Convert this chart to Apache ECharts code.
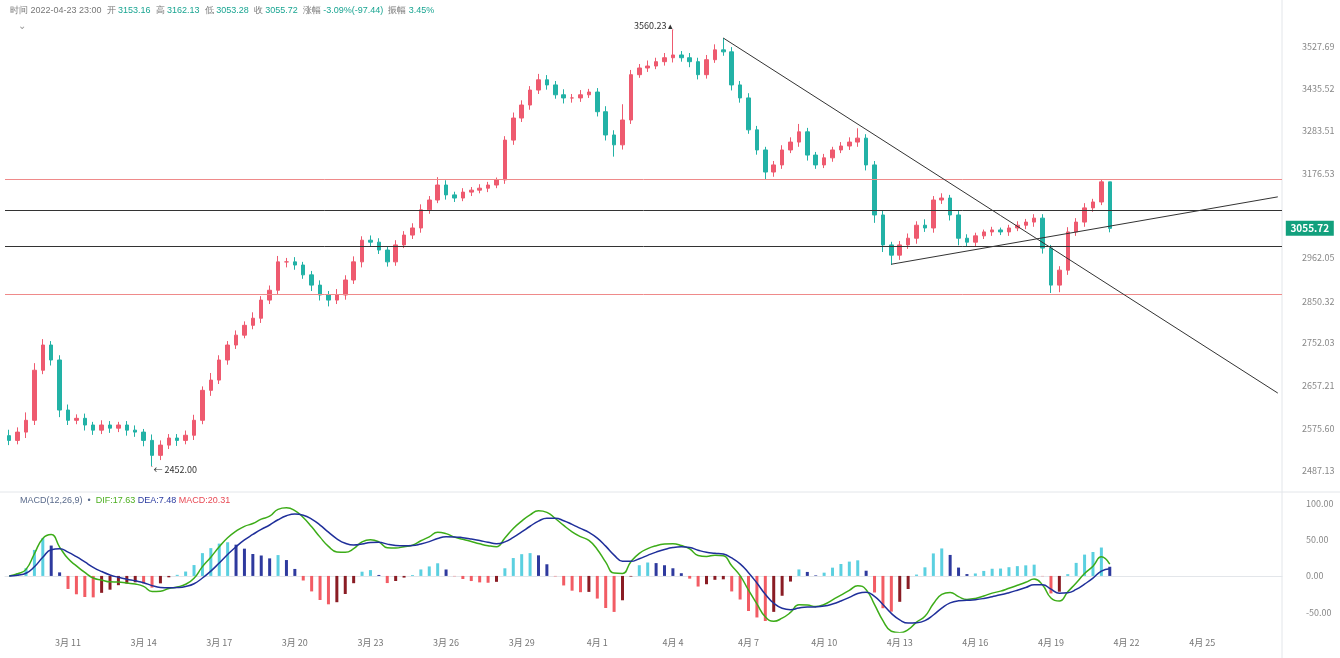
<!DOCTYPE html>
<html>
<head>
<meta charset="utf-8">
<script src="https://cdn.jsdelivr.net/npm/echarts@6/dist/echarts.min.js"></script>
<style>html,body{margin:0;padding:0;background:#fff}#main{width:1340px;height:658px}</style>
</head>
<body>
<div id="main"></div>
<script>
// 8h candles, index 0 = 3月8日 16:00
var closes = [2518,2539,2569,2696,2760,2722,2595,2569,2574,2557,2544,2557,2549,2557,2544,2539,2518,2480,2506,2524,
  2518,2531,2569,2645,2671,2722,2760,2785,2810,2828,2874,2899,2971,2971,2963,2938,2912,2887,2874,2887,
  2925,2971,3026,3021,3001,2971,3014,3039,3057,3103,3128,3166,3141,3133,3148,3153,3158,3166,3179,3280,
  3336,3369,3407,3433,3420,3395,3387,3387,3395,3402,3352,3293,3268,3331,3446,3463,3468,3479,3489,3496,
  3489,3479,3446,3484,3509,3504,3420,3387,3306,3255,3199,3217,3255,3275,3301,3242,3217,3235,3255,3265,
  3275,3285,3217,3090,3014,2988,3014,3031,3064,3057,3128,3133,3090,3031,3021,3037,3047,3052,3047,3057,
  3064,3072,3082,3006,2912,2950,3047,3072,3108,3123,3174,3056];
var firstOpen = 2530;
var upperWick = [15,12,20,18,15,10,12,14,10,12,8,12,10,8,10,12,8,15,12,10,
  10,12,14,10,18,12,10,12,10,15,10,12,15,10,12,8,10,12,10,15,
  12,14,10,12,10,8,12,10,12,14,10,20,12,8,10,8,10,8,6,10,
  14,12,10,15,12,10,14,10,12,8,10,14,12,40,12,10,14,10,12,64.23,
  10,12,10,12,14,30,12,10,12,10,8,10,12,12,20,10,8,10,8,10,
  12,25,10,10,12,8,10,12,10,15,10,12,8,10,10,8,6,8,6,8,
  10,8,10,10,8,10,12,10,12,8,7,0];
var lowerWick = [12,10,15,12,10,14,18,12,10,14,12,10,12,10,14,12,15,28,12,10,
  14,10,12,10,14,10,12,10,8,10,12,10,10,14,12,10,15,14,16,10,
  12,10,14,12,10,12,10,8,10,12,10,8,12,10,8,10,8,10,8,10,
  12,10,12,10,12,10,14,12,10,8,12,14,30,12,10,8,10,8,10,12,
  10,14,12,10,8,10,14,12,10,12,18,12,10,8,12,14,10,8,10,8,
  10,12,14,20,18,25,12,10,14,10,12,10,14,18,12,10,8,10,8,10,
  8,10,12,14,20,18,12,10,12,10,8,10];
var yTickValues = [3517, 3410, 3303, 3194, 2981, 2871, 2765, 2656, 2549, 2442];
var yTickLabels = ['3527.69','3435.52','3283.51','3176.53','2962.05','2850.32','2752.03','2657.21','2575.60','2487.13'];
var redLevels = [3181, 2889];
var blackLevels = [3103, 3011];
var downTrend = [[85, 3539], [151, 2638]];
var upTrend = [[105, 2965], [151, 3136]];
var lastPrice = '3055.72';
var macdTicks = [-50, 0, 50, 100];
var totalSlots = 152;

var upColor = '#ee5a6f', downColor = '#22b2a6';

// categories: 8h steps
var cats = [];
var t0 = new Date(2022, 2, 8, 16, 0);
for (var i = 0; i < totalSlots; i++) {
  var d = new Date(t0.getTime() + i * 8 * 3600 * 1000);
  cats.push((d.getMonth() + 1) + '月' + d.getDate() + ' ' + d.getHours() + ':00');
}

var ohlc = [];
for (var i = 0; i < closes.length; i++) {
  var o = i === 0 ? firstOpen : closes[i - 1];
  var c = closes[i];
  ohlc.push([o, c, Math.min(o, c) - lowerWick[i], Math.max(o, c) + upperWick[i]]);
}

// MACD over the same time windows as 12/26/9 on 4h bars
function ema(arr, n) {
  var k = 2 / (n + 1), out = [], prev = arr[0];
  for (var i = 0; i < arr.length; i++) { prev = i === 0 ? arr[0] : arr[i] * k + prev * (1 - k); out.push(prev); }
  return out;
}
var e1 = ema(closes, 6), e2 = ema(closes, 13);
var dif = closes.map(function (v, i) { return e1[i] - e2[i]; });
var dea = ema(dif, 5);
var hist = dif.map(function (v, i) { return 2 * (v - dea[i]); });
var histData = hist.map(function (v, i) {
  var p = i === 0 ? 0 : hist[i - 1], col;
  if (v >= 0) col = v >= p ? '#5bd0e0' : '#2e3a9e';
  else col = v <= p ? '#f25c64' : '#8a1c24';
  return { value: v, itemStyle: { color: col } };
});

function dayLabel(idx) { return idx < 150 && (idx - 7) % 9 === 0; }

var chart = echarts.init(document.getElementById('main'));
chart.setOption({
  animation: false,
  backgroundColor: '#fff',
  textStyle: { fontFamily: 'Noto Sans CJK SC' },
  graphic: [
    { type: 'text', left: 10, top: 6, style: { rich: {
        g: { fill: '#777', fontSize: 9 }, v: { fill: '#1aa592', fontSize: 9 } },
      text: '{g|时间 2022-04-23 23:00  开 }{v|3153.16}{g|  高 }{v|3162.13}{g|  低 }{v|3053.28}{g|  收 }{v|3055.72}{g|  涨幅 }{v|-3.09%(-97.44)}{g|  振幅 }{v|3.45%}' } },
    { type: 'text', left: 18, top: 21, style: { text: '⌄', fill: '#999', fontSize: 10 } },
    { type: 'text', left: 20, top: 496, style: { rich: {
        a: { fill: '#5a6b8c', fontSize: 9 }, b: { fill: '#4caf20', fontSize: 9 }, c: { fill: '#2a3aa0', fontSize: 9 }, d: { fill: '#e84a55', fontSize: 9 } },
      text: '{a|MACD(12,26,9)  •  }{b|DIF:17.63 }{c|DEA:7.48 }{d|MACD:20.31}' } },
    { type: 'line', shape: { x1: 0, y1: 492, x2: 1340, y2: 492 }, style: { stroke: '#e3e6ea', lineWidth: 1 } },
    { type: 'line', shape: { x1: 1282, y1: 0, x2: 1282, y2: 658 }, style: { stroke: '#e3e6ea', lineWidth: 1 } }
  ],
  grid: [
    { left: 5, right: 58, top: 14, height: 465 },
    { left: 5, right: 58, top: 498, height: 134 }
  ],
  xAxis: [
    { type: 'category', data: cats, gridIndex: 0, boundaryGap: true,
      axisLine: { show: false }, axisTick: { show: false }, axisLabel: { show: false }, splitLine: { show: false } },
    { type: 'category', data: cats, gridIndex: 1, boundaryGap: true,
      axisLine: { lineStyle: { color: '#e3e6ea' } }, axisTick: { show: false },
      axisLabel: { interval: dayLabel, color: '#777', fontSize: 9, margin: 6,
        formatter: function (v) { return v.split(' ')[0].replace('月', '月 '); } },
      splitLine: { show: false } }
  ],
  yAxis: [
    { type: 'value', gridIndex: 0, position: 'right', min: 2420, max: 3600, scale: true,
      axisLine: { show: false }, axisTick: { show: false }, splitLine: { show: false },
      axisLabel: { customValues: yTickValues, color: '#888', fontSize: 9, margin: 20,
        formatter: function (v) { var k = yTickValues.indexOf(v); return k >= 0 ? yTickLabels[k] : ''; } } },
    { type: 'value', gridIndex: 1, position: 'right', min: -77, max: 107,
      axisLine: { show: false }, axisTick: { show: false }, splitLine: { show: false },
      axisLabel: { customValues: macdTicks, color: '#888', fontSize: 9, margin: 24,
        formatter: function (v) { return v.toFixed(2); } } }
  ],
  series: [
    { type: 'candlestick', xAxisIndex: 0, yAxisIndex: 0, data: ohlc, barWidth: 4,
      itemStyle: { color: upColor, color0: downColor, borderColor: upColor, borderColor0: downColor, borderWidth: 1 },
      markPoint: { data: [
          { type: 'max', valueDim: 'highest', symbol: 'circle', symbolSize: 1, label: { position: 'left', formatter: function (p) { return p.value.toFixed(2) + ' ▴'; }, color: '#333', fontSize: 9, offset: [6, -4] } },
          { type: 'min', valueDim: 'lowest', symbol: 'circle', symbolSize: 1, label: { position: 'right', formatter: function (p) { return '← ' + p.value.toFixed(2); }, color: '#333', fontSize: 9, offset: [-4, 3] } },
          { coord: [totalSlots - 1, closes[closes.length - 1]], symbol: 'rect', symbolSize: [48, 15], symbolOffset: [32, 0],
            itemStyle: { color: '#12a07d' },
            label: { show: true, position: 'inside', formatter: lastPrice, color: '#fff', fontSize: 10, fontWeight: 'bold' } }
        ] },
      markLine: { symbol: 'none', silent: true, animation: false, data: [
          { yAxis: redLevels[0], lineStyle: { color: '#ef8a8a', width: 1, type: 'solid' }, label: { show: false } },
          { yAxis: redLevels[1], lineStyle: { color: '#ef8a8a', width: 1, type: 'solid' }, label: { show: false } },
          { yAxis: blackLevels[0], lineStyle: { color: '#333', width: 1, type: 'solid' }, label: { show: false } },
          { yAxis: blackLevels[1], lineStyle: { color: '#333', width: 1, type: 'solid' }, label: { show: false } },
          [{ coord: [downTrend[0][0], downTrend[0][1]] }, { coord: [downTrend[1][0], downTrend[1][1]], lineStyle: { color: '#333', width: 1, type: 'solid' }, label: { show: false } }],
          [{ coord: [upTrend[0][0], upTrend[0][1]] }, { coord: [upTrend[1][0], upTrend[1][1]], lineStyle: { color: '#333', width: 1, type: 'solid' }, label: { show: false } }]
        ] } },
    { type: 'bar', xAxisIndex: 1, yAxisIndex: 1, data: histData, barWidth: 3 },
    { type: 'line', xAxisIndex: 1, yAxisIndex: 1, data: dif, showSymbol: false, smooth: true, lineStyle: { color: '#3cac18', width: 1.5 } },
    { type: 'line', xAxisIndex: 1, yAxisIndex: 1, data: dea, showSymbol: false, smooth: true, lineStyle: { color: '#1f2f9a', width: 1.5 } }
  ]
});
</script>
</body>
</html>
